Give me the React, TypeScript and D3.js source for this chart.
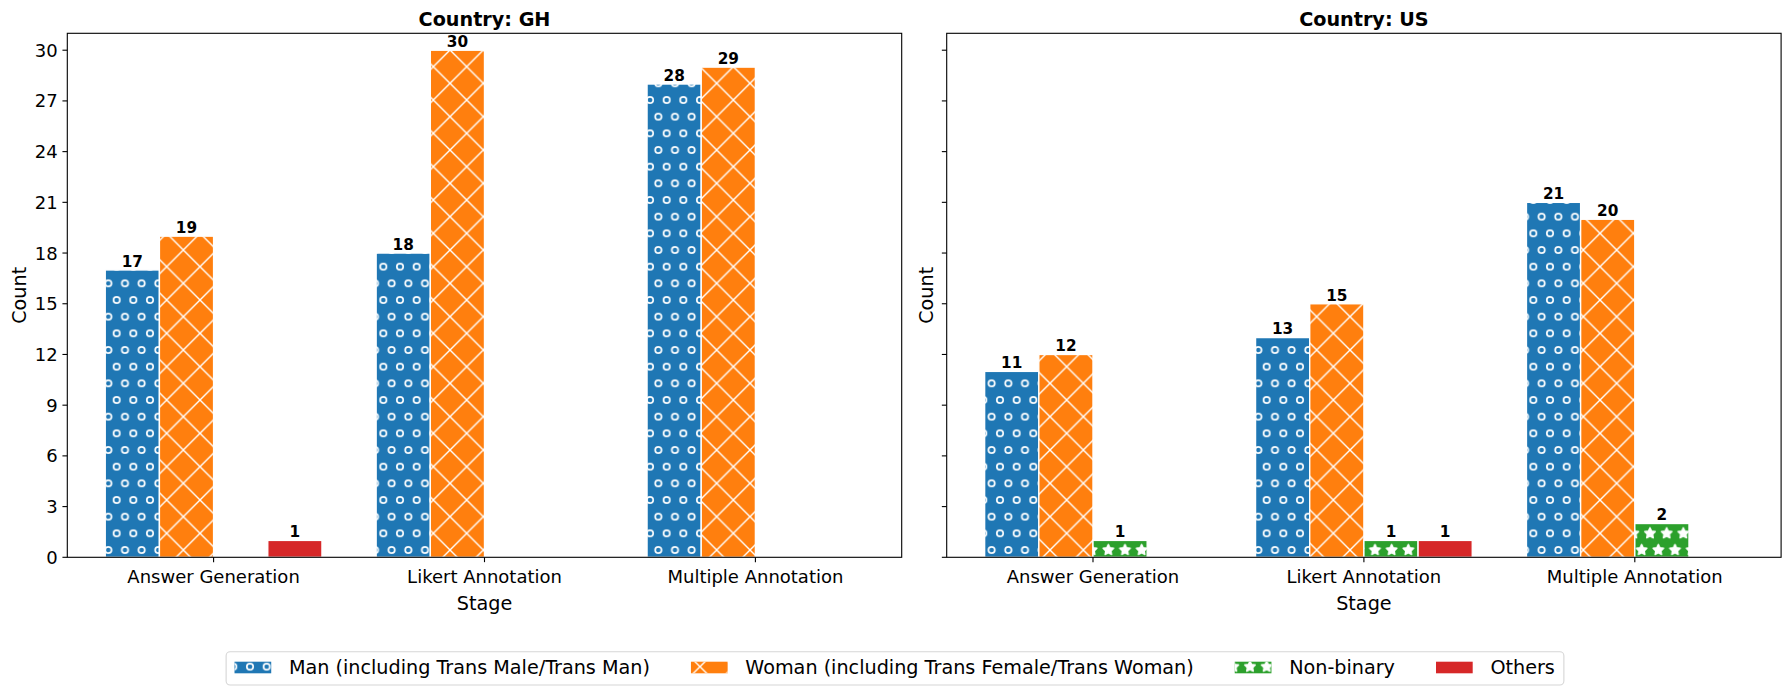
import React, { useRef, useEffect } from "react";
import * as d3 from "d3";

// data
const stages = ["Answer Generation", "Likert Annotation", "Multiple Annotation"];
const countries = ["GH", "US"];
const genders = [
    "Man (including Trans Male/Trans Man)",
    "Woman (including Trans Female/Trans Woman)",
    "Non-binary",
    "Others",
];
const ghMan = [17, 18, 28];
const ghWoman = [19, 30, 29];
const ghNonBinary = [0, 0, 0];
const ghOthers = [1, 0, 0];
const usMan = [11, 13, 21];
const usWoman = [12, 15, 20];
const usNonBinary = [1, 1, 2];
const usOthers = [0, 1, 0];
const yTicks = [0, 3, 6, 9, 12, 15, 18, 21, 24, 27, 30];

const colors = ["#1f77b4", "#ff7f0e", "#2ca02c", "#d62728"];
const hatches = ["hatch-o", "hatch-x", "hatch-star", null];

const seriesByCountry: Record<string, number[][]> = {
    GH: [ghMan, ghWoman, ghNonBinary, ghOthers],
    US: [usMan, usWoman, usNonBinary, usOthers],
};

const FONT = "DejaVu Sans, sans-serif";

export default function App() {
    const ref = useRef<SVGSVGElement | null>(null);

    useEffect(() => {
        if (!ref.current) return;
        const svg = d3.select(ref.current);
        svg.selectAll("*").remove();

        const W = 1790, H = 695;
        svg.attr("width", W).attr("height", H);

        // hatch patterns (matplotlib: 6 per inch at 100 dpi)
        const defs = svg.append("defs");
        const step = 100 / 6;
        const hw = 1.39;

        const po = defs.append("pattern")
            .attr("id", "hatch-o")
            .attr("patternUnits", "userSpaceOnUse")
            .attr("width", step).attr("height", step * 2);
        [[0, 0], [step, 0], [0, 2 * step], [step, 2 * step], [step / 2, step]].forEach(([cx, cy]) => {
            po.append("circle")
                .attr("cx", cx).attr("cy", cy).attr("r", 3.17)
                .attr("fill", "none").attr("stroke", "white").attr("stroke-width", 1.7);
        });

        const px = defs.append("pattern")
            .attr("id", "hatch-x")
            .attr("patternUnits", "userSpaceOnUse")
            .attr("width", step * 2).attr("height", step * 2);
        px.append("line").attr("x1", -2).attr("y1", -2).attr("x2", step * 2 + 2).attr("y2", step * 2 + 2)
            .attr("stroke", "white").attr("stroke-width", hw);
        px.append("line").attr("x1", -2).attr("y1", step * 2 + 2).attr("x2", step * 2 + 2).attr("y2", -2)
            .attr("stroke", "white").attr("stroke-width", hw);

        const ps = defs.append("pattern")
            .attr("id", "hatch-star")
            .attr("patternUnits", "userSpaceOnUse")
            .attr("width", step).attr("height", step * 2);
        const R = step / 3;
        const starPts = (cx: number, cy: number) =>
            d3.range(10).map((i) => {
                const a = -Math.PI / 2 + (i * Math.PI) / 5;
                const r = i % 2 === 0 ? R : R * 0.5;
                return `${cx + r * Math.cos(a)},${cy + r * Math.sin(a)}`;
            }).join(" ");
        [[0, 0], [step, 0], [0, 2 * step], [step, 2 * step], [step / 2, step]].forEach(([cx, cy]) => {
            ps.append("polygon")
                .attr("points", starPts(cx, cy))
                .attr("fill", "white").attr("stroke", "white").attr("stroke-width", hw)
                .attr("stroke-linejoin", "round");
        });

        // two panels, shared y
        const top = 33.3, bottom = 557.3;
        const panelW = 834.4;
        const panels = [67.3, 946.7];
        const y = d3.scaleLinear().domain([0, 31]).range([bottom, top]);
        const barW = 0.2;
        const offsets = [-0.3, -0.1, 0.1, 0.3];

        countries.forEach((country, pi) => {
            const left = panels[pi];
            const x = d3.scaleLinear().domain([-0.54, 2.54]).range([left, left + panelW]);
            const g = svg.append("g");
            const series = seriesByCountry[country];

            series.forEach((vals, si) => {
                vals.forEach((v, ci) => {
                    if (v === 0) return;
                    const x0 = x(ci + offsets[si] - barW / 2);
                    const x1 = x(ci + offsets[si] + barW / 2);
                    g.append("rect")
                        .attr("x", x0).attr("y", y(v))
                        .attr("width", x1 - x0).attr("height", y(0) - y(v))
                        .attr("fill", colors[si]);
                    if (hatches[si]) {
                        g.append("rect")
                            .attr("x", x0).attr("y", y(v))
                            .attr("width", x1 - x0).attr("height", y(0) - y(v))
                            .attr("fill", `url(#${hatches[si]})`);
                    }
                    g.append("rect")
                        .attr("x", x0).attr("y", y(v))
                        .attr("width", x1 - x0).attr("height", y(0) - y(v))
                        .attr("fill", "none").attr("stroke", "white").attr("stroke-width", 1.39);
                    // value label
                    g.append("text")
                        .attr("x", (x0 + x1) / 2)
                        .attr("y", y(v) - 3.2)
                        .attr("text-anchor", "middle")
                        .style("font-family", FONT)
                        .style("font-size", "15.3px")
                        .style("font-weight", "bold")
                        .text(v);
                });
            });

            // frame
            g.append("rect")
                .attr("x", left).attr("y", top)
                .attr("width", panelW).attr("height", bottom - top)
                .attr("fill", "none").attr("stroke", "black").attr("stroke-width", 1.1);

            // y ticks
            yTicks.forEach((t) => {
                g.append("line")
                    .attr("x1", left - 4.86).attr("x2", left)
                    .attr("y1", y(t)).attr("y2", y(t))
                    .attr("stroke", "black").attr("stroke-width", 1.1);
                if (pi === 0) {
                    g.append("text")
                        .attr("x", left - 9.7)
                        .attr("y", y(t) + 6.5)
                        .attr("text-anchor", "end")
                        .style("font-family", FONT)
                        .style("font-size", "18px")
                        .text(t);
                }
            });

            // x ticks
            stages.forEach((s, ci) => {
                g.append("line")
                    .attr("x1", x(ci)).attr("x2", x(ci))
                    .attr("y1", bottom).attr("y2", bottom + 4.86)
                    .attr("stroke", "black").attr("stroke-width", 1.1);
                g.append("text")
                    .attr("x", x(ci))
                    .attr("y", 582.5)
                    .attr("text-anchor", "middle")
                    .style("font-family", FONT)
                    .style("font-size", "18px")
                    .text(s);
            });

            // axis labels + title
            g.append("text")
                .attr("x", left + panelW / 2).attr("y", 610)
                .attr("text-anchor", "middle")
                .style("font-family", FONT).style("font-size", "19.2px")
                .text("Stage");
            const ylx = pi === 0 ? 26.4 : 933;
            g.append("text")
                .attr("transform", `translate(${ylx},${(top + bottom) / 2}) rotate(-90)`)
                .attr("text-anchor", "middle")
                .style("font-family", FONT).style("font-size", "19.2px")
                .text("Count");
            g.append("text")
                .attr("x", left + panelW / 2).attr("y", 26)
                .attr("text-anchor", "middle")
                .style("font-family", FONT).style("font-size", "19.2px").style("font-weight", "bold")
                .text(`Country: ${country}`);
        });

        // legend
        const lg = svg.append("g");
        const box = lg.append("rect");
        const handleW = 36.7, textGap = 17.7, colGap = 41, padL = 8.4, padR = 9;
        const items = genders.map((name, i) => {
            const h = lg.append("g");
            const t = h.append("text")
                .attr("y", 674.3)
                .style("font-family", FONT).style("font-size", "19.2px")
                .text(name);
            const w = (t.node() as SVGTextElement).getComputedTextLength();
            return { h, t, w, i };
        });
        const total = padL + padR + d3.sum(items, (d) => handleW + textGap + d.w) + colGap * (items.length - 1);
        let cx = W / 2 - total / 2;
        const boxX = cx;
        cx += padL;
        items.forEach(({ h, t, w, i }) => {
            h.insert("rect", "text")
                .attr("x", cx).attr("y", 661.7).attr("width", handleW).attr("height", 11.6)
                .attr("fill", colors[i]);
            if (hatches[i]) {
                h.insert("rect", "text")
                    .attr("x", cx).attr("y", 661.7).attr("width", handleW).attr("height", 11.6)
                    .attr("fill", `url(#${hatches[i]})`);
            }
            t.attr("x", cx + handleW + textGap);
            cx += handleW + textGap + w + colGap;
        });
        box.attr("x", boxX).attr("y", 651.7)
            .attr("width", total).attr("height", 33.3)
            .attr("rx", 4).attr("ry", 4)
            .attr("fill", "white").attr("stroke", "#d6d6d6").attr("stroke-width", 1.1);
    }, []);

    return (
        <div>
            <svg ref={ref} style={{ position: "absolute", left: 0, top: 0 }} />
        </div>
    );
}
